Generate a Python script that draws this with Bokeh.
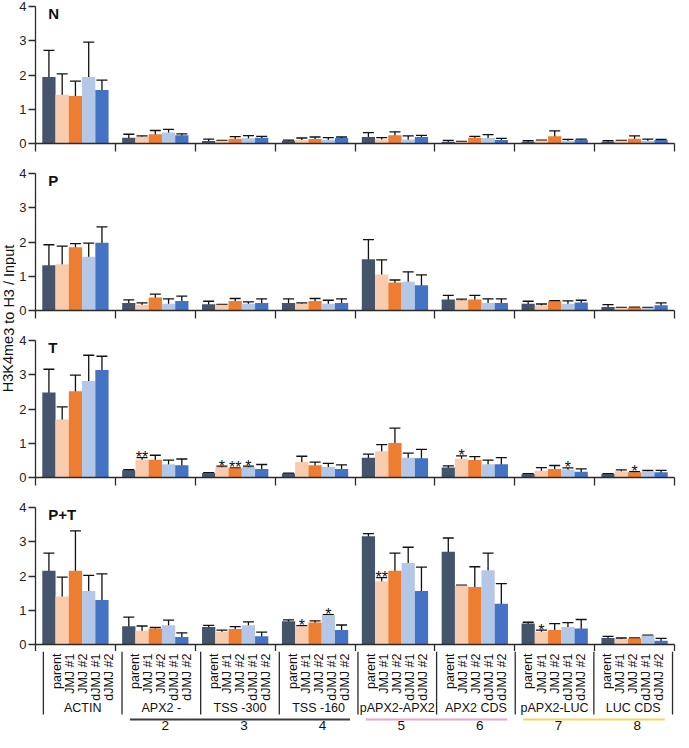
from bokeh.plotting import figure
from bokeh.models import Range1d, FixedTicker, ColumnDataSource, Whisker, TeeHead
from bokeh.layouts import row, column
from bokeh.embed import file_html
from bokeh.resources import INLINE
from bokeh.core.properties import value

FONT = "Liberation Sans"

groups = ["ACTIN", "APX2 -", "TSS -300", "TSS -160", "pAPX2-APX2", "APX2 CDS", "pAPX2-LUC", "LUC CDS"]
samples = ["parent", "JMJ #1", "JMJ #2", "dJMJ #1", "dJMJ #2"]
colors = ["#44546A", "#F8CBAD", "#ED7D31", "#B4C7E7", "#4472C4"]
panel_names = ["N", "P", "T", "P+T"]
region_numbers = ["", "2", "3", "4", "5", "6", "7", "8"]
region_sets = [[1, 2, 3], [4, 5], [6, 7]]
region_colors = ["#3C3C3C", "#E9A6CC", "#F6D55C"]

# rows = groups, columns = samples
N_mean = [
    [1.94, 1.42, 1.39, 1.94, 1.56],
    [0.17, 0.20, 0.27, 0.32, 0.24],
    [0.07, 0.08, 0.14, 0.15, 0.17],
    [0.08, 0.10, 0.13, 0.11, 0.16],
    [0.19, 0.12, 0.24, 0.12, 0.19],
    [0.05, 0.05, 0.17, 0.16, 0.10],
    [0.05, 0.09, 0.21, 0.08, 0.11],
    [0.05, 0.08, 0.14, 0.08, 0.10],
]
N_err = [
    [0.78, 0.61, 0.43, 1.02, 0.29],
    [0.10, 0.02, 0.11, 0.09, 0.04],
    [0.06, 0.01, 0.06, 0.08, 0.04],
    [0.02, 0.06, 0.06, 0.06, 0.03],
    [0.13, 0.05, 0.10, 0.10, 0.05],
    [0.04, 0.01, 0.04, 0.10, 0.05],
    [0.03, 0.01, 0.16, 0.04, 0.02],
    [0.03, 0.01, 0.08, 0.05, 0.02],
]
P_mean = [
    [1.32, 1.35, 1.85, 1.57, 1.98],
    [0.22, 0.17, 0.38, 0.20, 0.28],
    [0.18, 0.17, 0.28, 0.20, 0.22],
    [0.22, 0.20, 0.28, 0.20, 0.22],
    [1.50, 1.05, 0.82, 0.84, 0.74],
    [0.32, 0.30, 0.32, 0.22, 0.22],
    [0.20, 0.15, 0.27, 0.20, 0.23],
    [0.10, 0.08, 0.09, 0.08, 0.15],
]
P_err = [
    [0.60, 0.53, 0.10, 0.40, 0.46],
    [0.09, 0.05, 0.10, 0.14, 0.14],
    [0.09, 0.01, 0.07, 0.05, 0.12],
    [0.12, 0.02, 0.07, 0.10, 0.12],
    [0.57, 0.43, 0.07, 0.29, 0.30],
    [0.12, 0.03, 0.12, 0.12, 0.12],
    [0.07, 0.04, 0.02, 0.08, 0.07],
    [0.07, 0.01, 0.01, 0.01, 0.07],
]
T_mean = [
    [2.48, 1.69, 2.52, 2.82, 3.14],
    [0.21, 0.52, 0.52, 0.39, 0.36],
    [0.13, 0.30, 0.27, 0.30, 0.25],
    [0.12, 0.45, 0.36, 0.31, 0.25],
    [0.58, 0.77, 1.01, 0.58, 0.56],
    [0.29, 0.55, 0.51, 0.39, 0.39],
    [0.10, 0.20, 0.25, 0.23, 0.17],
    [0.10, 0.18, 0.15, 0.18, 0.15],
]
T_err = [
    [0.68, 0.37, 0.47, 0.75, 0.40],
    [0.02, 0.06, 0.13, 0.12, 0.18],
    [0.01, 0.03, 0.01, 0.03, 0.13],
    [0.01, 0.17, 0.09, 0.10, 0.12],
    [0.10, 0.19, 0.43, 0.13, 0.26],
    [0.05, 0.08, 0.10, 0.12, 0.19],
    [0.01, 0.09, 0.10, 0.05, 0.08],
    [0.01, 0.04, 0.02, 0.03, 0.06],
]
PT_mean = [
    [2.15, 1.40, 2.15, 1.56, 1.30],
    [0.53, 0.40, 0.47, 0.56, 0.22],
    [0.51, 0.37, 0.45, 0.56, 0.24],
    [0.68, 0.53, 0.64, 0.86, 0.42],
    [3.16, 1.85, 2.15, 2.38, 1.56],
    [2.71, 1.72, 1.68, 2.17, 1.19],
    [0.61, 0.37, 0.42, 0.51, 0.47],
    [0.19, 0.16, 0.18, 0.26, 0.11],
]
PT_err = [
    [0.52, 0.57, 1.17, 0.46, 0.76],
    [0.27, 0.14, 0.03, 0.15, 0.12],
    [0.05, 0.05, 0.07, 0.10, 0.12],
    [0.04, 0.02, 0.05, 0.01, 0.15],
    [0.08, 0.10, 0.52, 0.46, 0.70],
    [0.40, 0.01, 0.59, 0.50, 0.59],
    [0.04, 0.05, 0.19, 0.13, 0.26],
    [0.05, 0.03, 0.01, 0.01, 0.07],
]
means = {"N": N_mean, "P": P_mean, "T": T_mean, "P+T": PT_mean}
errs = {"N": N_err, "P": P_err, "T": T_err, "P+T": PT_err}

# significance marks
star_panel = ["T", "T", "T", "T", "T", "T", "T", "P+T", "P+T", "P+T", "P+T"]
star_group = [1, 2, 2, 2, 5, 6, 7, 3, 3, 4, 6]
star_sample = [1, 1, 2, 3, 1, 3, 2, 1, 3, 1, 1]
star_text = ["**", "*", "**", "*", "*", "*", "*", "*", "*", "**", "*"]

BW = 0.166
OFF = 0.085
AX = "#2b2b2b"
TXT = "#111111"

YLW = 16          # width of the y-title strip
LEFT = 18         # left border of each panel
FW = 640          # frame width (8 groups)
RIGHT = 2
FH = 137          # frame height of each panel
TOP = 6
BOT = 24
BOT_LAST = 7
LH = 81           # height of the label strip
PW = LEFT + FW + RIGHT


def bar_x(g, j):
    return g + OFF + (j + 0.5) * BW


xr = Range1d(0, len(groups))
panels = []
for k, name in enumerate(panel_names):
    last = k == len(panel_names) - 1
    p = figure(width=PW, height=TOP + FH + (BOT_LAST if last else BOT), x_range=xr, y_range=Range1d(0, 4),
               toolbar_location=None, output_backend="svg",
               min_border_left=LEFT, min_border_right=RIGHT, min_border_top=TOP,
               min_border_bottom=BOT_LAST if last else BOT)
    p.outline_line_color = None
    p.xgrid.visible = False
    p.ygrid.visible = False
    p.background_fill_color = "white"
    p.border_fill_color = "white"

    m = means[name]
    e = errs[name]
    for j in range(len(samples)):
        xs = [bar_x(g, j) for g in range(len(groups))]
        tops = [m[g][j] for g in range(len(groups))]
        p.vbar(x=xs, top=tops, bottom=0, width=BW, fill_color=colors[j], line_color=None)
    for j in range(len(samples)):
        xs = [bar_x(g, j) for g in range(len(groups))]
        up = [m[g][j] + e[g][j] for g in range(len(groups))]
        lo = [max(m[g][j] - e[g][j], 0) for g in range(len(groups))]
        src = ColumnDataSource(dict(base=xs, upper=up, lower=lo))
        w = Whisker(source=src, base="base", upper="upper", lower="lower", dimension="height",
                    line_color=TXT, line_width=1.3,
                    upper_head=TeeHead(size=11, line_color=TXT, line_width=1.3),
                    lower_head=TeeHead(size=11, line_color=TXT, line_width=1.3))
        p.add_layout(w)

    sx, sy, st = [], [], []
    for pn, g, j, t in zip(star_panel, star_group, star_sample, star_text):
        if pn == name:
            sx.append(bar_x(g, j))
            sy.append(m[g][j] + e[g][j])
            st.append(t)
    if sx:
        p.text(x=sx, y=sy, text=st, text_align="center", text_baseline="alphabetic",
               text_font=value(FONT), text_font_size="16px", text_color=TXT)

    p.text(x=[0.16], y=[3.8], text=[name], text_align="left", text_baseline="middle",
           text_font=value(FONT), text_font_size="15px", text_font_style="bold", text_color=TXT)

    p.yaxis.ticker = FixedTicker(ticks=[0, 1, 2, 3, 4])
    p.yaxis.minor_tick_line_color = None
    p.yaxis.major_tick_out = 7
    p.yaxis.major_tick_in = 0
    p.yaxis.major_label_standoff = 2
    p.yaxis.major_label_text_font = FONT
    p.yaxis.major_label_text_font_size = "13px"
    p.yaxis.major_label_text_color = "#222222"
    p.yaxis.axis_line_color = AX
    p.yaxis.axis_line_width = 1.3
    p.yaxis.major_tick_line_color = AX
    p.yaxis.major_tick_line_width = 1.3

    # group boundaries as (label-free) minor ticks
    p.xaxis.ticker = FixedTicker(ticks=[], minor_ticks=list(range(len(groups) + 1)))
    p.xaxis.major_tick_line_color = None
    p.xaxis.minor_tick_out = BOT_LAST if last else 8
    p.xaxis.minor_tick_in = 0
    p.xaxis.minor_tick_line_color = AX
    p.xaxis.minor_tick_line_width = 1.3
    p.xaxis.axis_line_color = AX
    p.xaxis.axis_line_width = 1.3
    panels.append(p)

# category label strip below the last panel
PAD = 0.1
UNIT = FW / 8.0
lab = figure(width=PW, height=LH, x_range=Range1d(-PAD, len(groups) + RIGHT / UNIT),
             y_range=Range1d(0, LH),
             toolbar_location=None, output_backend="svg", x_axis_type=None, y_axis_type=None,
             min_border_left=LEFT - round(PAD * UNIT), min_border_right=0,
             min_border_top=0, min_border_bottom=0)
lab.outline_line_color = None
lab.xgrid.visible = False
lab.ygrid.visible = False

bx = list(range(len(groups) + 1))
lab.segment(x0=bx, y0=[LH] * len(bx), x1=bx, y1=[18] * len(bx), line_color=AX, line_width=1.3)

sx, st = [], []
for g in range(len(groups)):
    for j, s in enumerate(samples):
        sx.append(bar_x(g, j))
        st.append(s)
lab.text(x=sx, y=[LH - 2] * len(sx), text=st, angle=1.5707963, text_align="right",
         text_baseline="middle", text_font=value(FONT), text_font_size="12.5px", text_color=TXT)

lab.text(x=[g + 0.5 for g in range(len(groups))], y=[24.5] * len(groups), text=groups,
         text_align="center", text_baseline="middle", text_font=value(FONT),
         text_font_size="12.5px", text_color=TXT)

for rs, rc in zip(region_sets, region_colors):
    lab.segment(x0=[min(rs) + 0.1], y0=[13], x1=[max(rs) + 0.9], y1=[13], line_color=rc, line_width=2)

lab.text(x=[g + 0.55 for g in range(len(groups))], y=[6.8] * len(groups), text=region_numbers,
         text_align="center", text_baseline="middle", text_font=value(FONT),
         text_font_size="13.5px", text_color=TXT)

total_h = (TOP + FH + BOT) * 3 + TOP + FH + BOT_LAST + LH
ylab = figure(width=YLW, height=total_h, x_range=Range1d(0, YLW), y_range=Range1d(0, total_h),
              toolbar_location=None, output_backend="svg", x_axis_type=None, y_axis_type=None,
              min_border=0)
ylab.outline_line_color = None
ylab.xgrid.visible = False
ylab.ygrid.visible = False
# centred a little below the bottom of panel P
yl_center = (TOP + FH + BOT) + TOP + FH + 8
ylab.text(x=[YLW / 2], y=[total_h - yl_center], text=["H3K4me3 to H3 / Input"], angle=1.5707963,
          text_align="center", text_baseline="middle", text_font=value(FONT),
          text_font_size="14.5px", text_color=TXT)

layout = row(ylab, column(*panels, lab, spacing=0), spacing=0)
open("out.html", "w").write(file_html(layout, INLINE))
